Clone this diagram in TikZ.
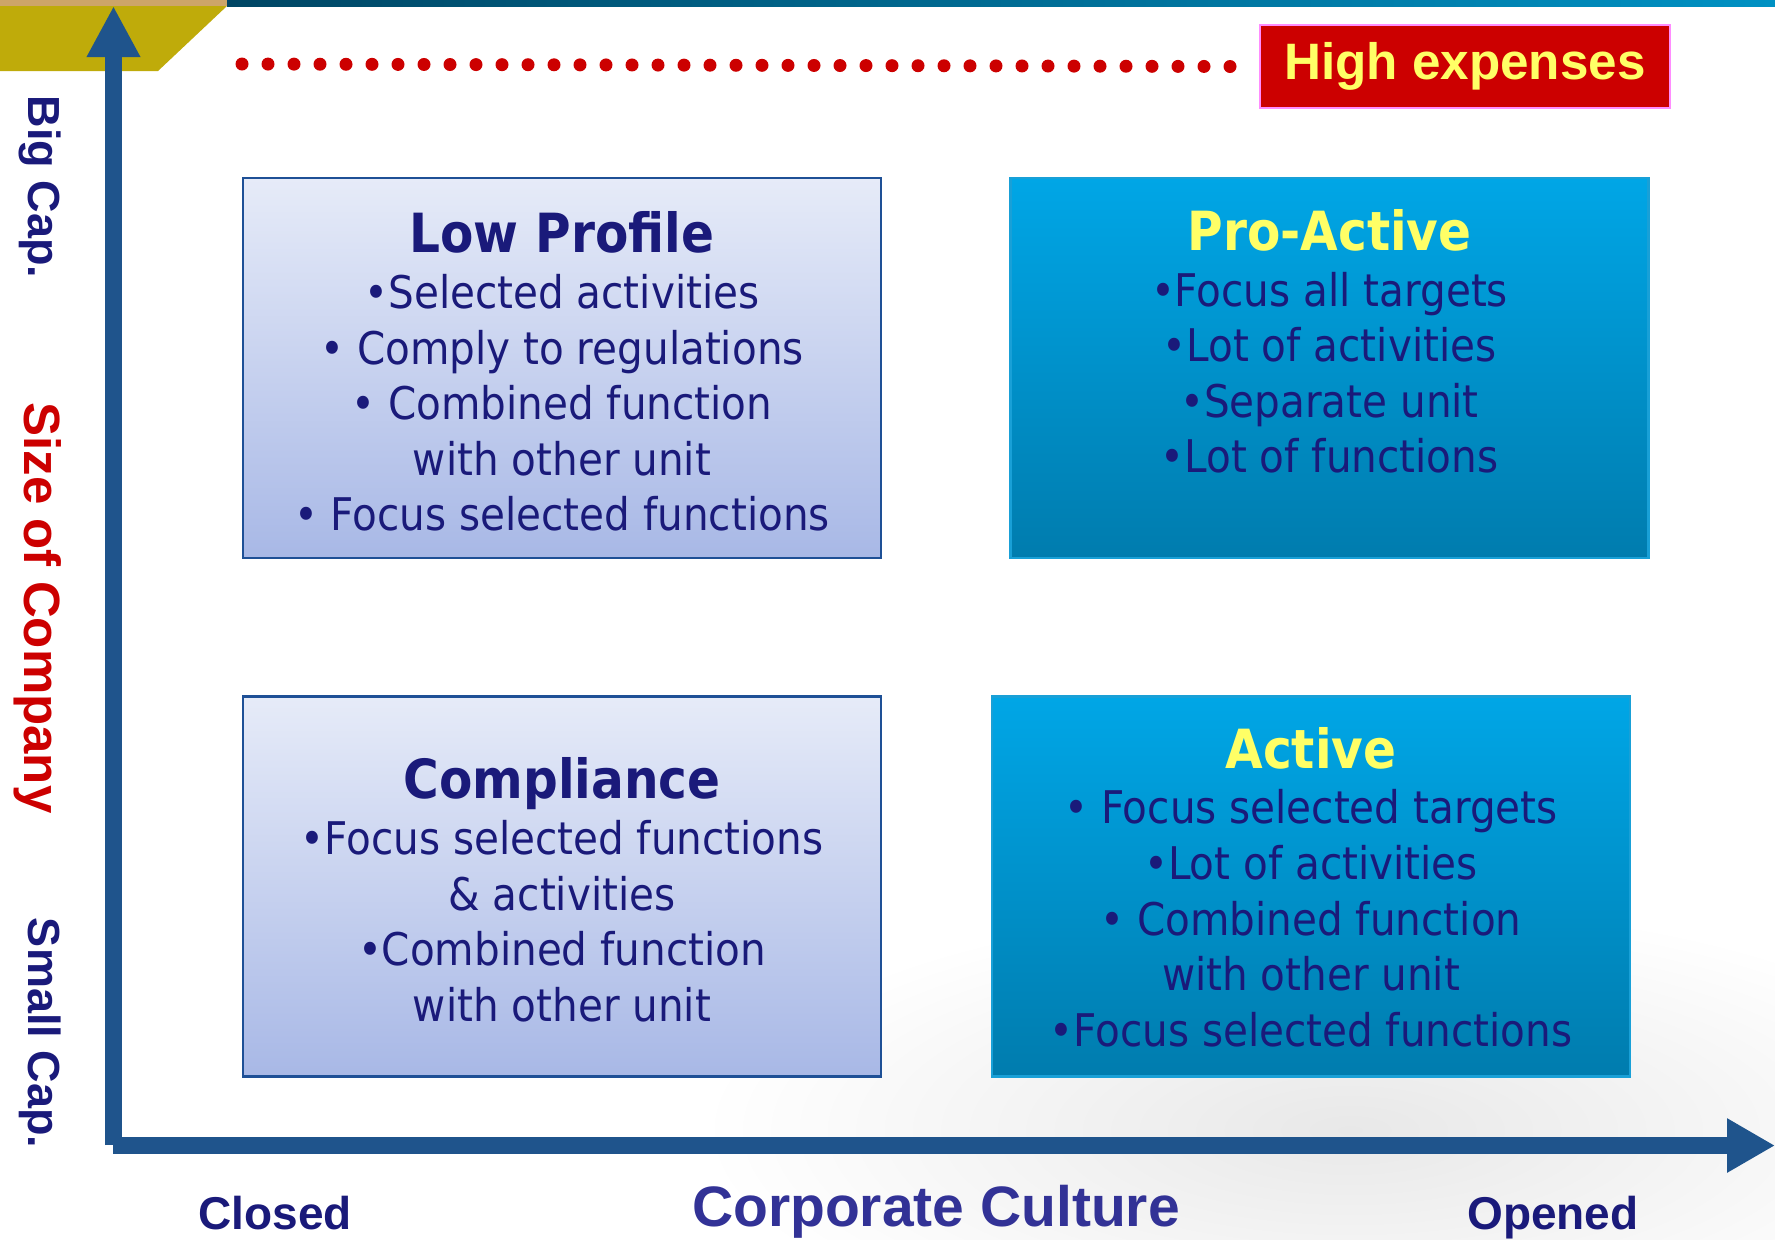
\documentclass[tikz,border=0pt]{standalone}
\usepackage{fontspec}
\setmainfont{Liberation Sans}
\newfontfamily\boxfont[FakeStretch=0.9]{DejaVu Sans}
\usetikzlibrary{arrows.meta,positioning}

\definecolor{navytext}{RGB}{26,26,122}
\definecolor{axisblue}{RGB}{31,84,140}
\definecolor{cultureblue}{RGB}{50,50,150}
\definecolor{sizered}{RGB}{204,0,0}
\definecolor{titleyellow}{RGB}{255,255,102}
\definecolor{paletop}{RGB}{230,235,248}
\definecolor{palebot}{RGB}{168,184,230}
\definecolor{paleedge}{RGB}{30,80,150}
\definecolor{cyantop}{RGB}{0,166,230}
\definecolor{cyanbot}{RGB}{0,124,174}
\definecolor{cyanedge}{RGB}{25,160,215}
\definecolor{olivebar}{RGB}{191,171,10}
\definecolor{tanstrip}{RGB}{205,165,105}
\definecolor{tealdark}{RGB}{0,70,100}
\definecolor{teallight}{RGB}{0,145,195}
\definecolor{pinkedge}{RGB}{255,140,255}

\tikzset{
  quadbox/.style={minimum width=319pt, minimum height=190pt, line width=1.2pt},
  palebox/.style={quadbox, draw=paleedge, top color=paletop, bottom color=palebot},
  cyanbox/.style={quadbox, draw=cyanedge, top color=cyantop, bottom color=cyanbot},
  boxtext/.style={anchor=base, align=center, inner sep=0pt, text=navytext,
    font=\boxfont\fontsize{22.5}{27.8}\selectfont},
  axis/.style={axisblue, line width=8.5pt},
  sidelabel/.style={rotate=-90, font=\bfseries\fontsize{22.5}{26}\selectfont, text=navytext},
  endlabel/.style={anchor=base, font=\bfseries\fontsize{23}{26}\selectfont, text=navytext},
  dotrow/.style={sizered, line width=6.5pt, line cap=round, dash pattern=on 0pt off 13pt}
}
\newcommand{\quadtitle}[1]{{\bfseries\fontsize{27}{27.8}\selectfont #1}}

\begin{document}
\begin{tikzpicture}[x=0.5pt, y=-0.5pt]
\useasboundingbox (0,0) rectangle (1775,1239);

% faint background picture
\shade[inner color=black!9, outer color=white] (1350,1130) ellipse (650 and 230);

% top strip and corner
\fill[tanstrip] (0,0) rectangle (227,6);
\shade[left color=tealdark, right color=teallight] (227,0) rectangle (1775,6);
\fill[olivebar] (0,6) -- (227,6) -- (158,71) -- (0,71) -- cycle;

% axes
\coordinate (origin) at (113.5,1145);
\coordinate (ytip) at (113.5,6);
\coordinate (xstart) at (113,1145.5);
\coordinate (xtip) at (1775,1145.5);
\draw[axis, -{Triangle[length=25.5pt, width=25pt]}] (origin) -- (ytip);
\draw[axis, -{Triangle[length=24pt, width=25.5pt]}] (xstart) -- (xtip);

% high expenses
\node[fill=sizered, draw=pinkedge, line width=1.2pt, minimum width=205pt, minimum height=41.5pt,
  text=titleyellow, font=\bfseries\fontsize{25.6}{28}\selectfont] (expenses) at (1465,66.5) {High expenses};
\coordinate (dotstart) at (242,64);
\draw[dotrow] (dotstart) -- ([xshift=-14pt]expenses.west);

% quadrants
\node[palebox] (lowprofile) at (562,368) {};
\node[cyanbox] (proactive) at (1329.5,368) {};
\node[palebox] (compliance) at (562,886.5) {};
\node[cyanbox] (active) at (1311,886.5) {};

% text rows, base anchor sits on the last row
\node[boxtext] (lowtext) at ([yshift=-177pt]lowprofile.north) {\quadtitle{Low Profile}\\
  •Selected activities\\ • Comply to regulations\\ • Combined function\\ with other unit\\
  • Focus selected functions};
\node[boxtext] (proactivetext) at ([yshift=-148pt]proactive.north) {\quadtitle{\color{titleyellow}Pro-Active}\\
  •Focus all targets\\ •Lot of activities\\ •Separate unit\\ •Lot of functions};
\node[boxtext] (compliancetext) at ([yshift=-163pt]compliance.north) {\quadtitle{Compliance}\\
  •Focus selected functions\\ \& activities\\ •Combined function\\ with other unit};
\node[boxtext] (activetext) at ([yshift=-175.5pt]active.north) {\quadtitle{\color{titleyellow}Active}\\
  • Focus selected targets\\ •Lot of activities\\ • Combined function\\ with other unit\\
  •Focus selected functions};

% axis labels
\node[sidelabel] (bigcap) at (40,187) {Big Cap.};
\node[sidelabel, text=sizered, font=\bfseries\fontsize{25.5}{28}\selectfont] (size) at (38,608) {Size of Company};
\node[sidelabel] (smallcap) at (40,1033) {Small Cap.};
\node[endlabel] (closed) at (275,1229) {Closed};
\node[endlabel] (opened) at (1553,1229) {Opened};
\node[endlabel, text=cultureblue, font=\bfseries\fontsize{28.5}{30}\selectfont] (culture) at (936,1226) {Corporate Culture};
\end{tikzpicture}
\end{document}
